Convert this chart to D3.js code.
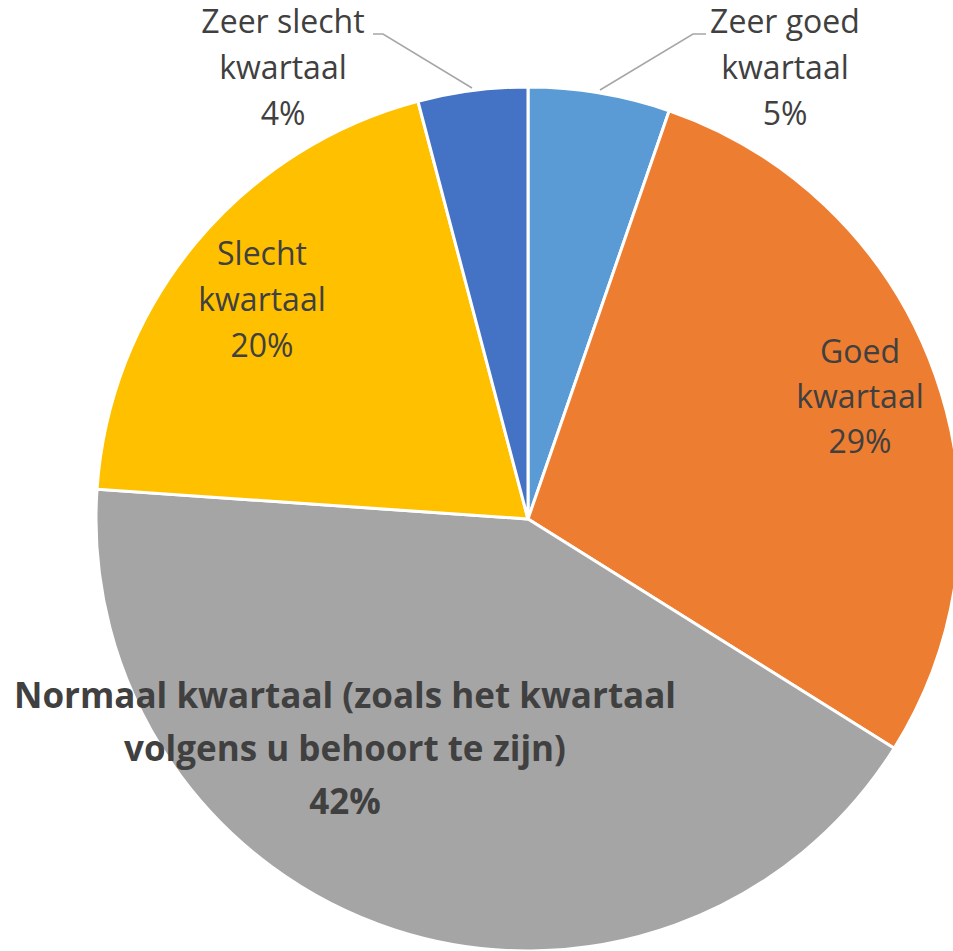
<!DOCTYPE html>
<html>
<head>
  <meta charset="UTF-8">
  <title>kwartaal-pie</title>
  <style type="text/css">
    body { margin: 0; background: #fff; }
    .slice { stroke: #fff; stroke-width: 3px; }
    .label { fill: #404040; font-family: "Open Sans", sans-serif; text-anchor: middle; }
    .leader { fill: none; stroke: #a6a6a6; stroke-width: 1.5px; }
  </style>
</head>
<body>
  <div class="svg-zone"></div>
  <script src="https://cdn.jsdelivr.net/npm/d3@7"></script>
  <script type="text/javascript">
    var categories = [
      "Zeer goed kwartaal",
      "Goed kwartaal",
      "Normaal kwartaal (zoals het kwartaal volgens u behoort te zijn)",
      "Slecht kwartaal",
      "Zeer slecht kwartaal"
    ];
    var values = [5.3, 28.6, 42.2, 19.8, 4.1];
    var colors = ["#5b9bd5", "#ed7d31", "#a5a5a5", "#ffc000", "#4472c4"];

    // label lines, split as shown
    var labelLines = [
      ["Zeer goed", "kwartaal"],
      ["Goed", "kwartaal"],
      ["Normaal kwartaal (zoals het kwartaal", "volgens u behoort te zijn)"],
      ["Slecht", "kwartaal"],
      ["Zeer slecht", "kwartaal"]
    ];

    var width = 953,
      height = 951,
      cx = 528,
      cy = 519,
      radius = 432;

    // label layout: centre x, first line y, line height, size, weight
    var labelPos = [
      { x: 785, y: 24, lh: 46, size: 32, bold: false, leader: [[600, 90], [693, 34], [706, 34]] },
      { x: 860, y: 354, lh: 45, size: 32, bold: false },
      { x: 345, y: 699, lh: 53, size: 35, bold: true },
      { x: 262, y: 256, lh: 46, size: 32, bold: false },
      { x: 283, y: 24, lh: 46, size: 32, bold: false, leader: [[472, 88], [383, 34], [373, 34]] }
    ];

    var svg = d3.select(".svg-zone").append("svg")
      .attr("width", width)
      .attr("height", height);

    var pie = d3.pie().sort(null).value(function (d) { return d; });
    var arc = d3.arc().innerRadius(0).outerRadius(radius);

    var g = svg.append("g").attr("transform", "translate(" + cx + "," + cy + ")");

    g.selectAll(".slice")
      .data(pie(values))
      .enter().append("path")
      .attr("class", "slice")
      .attr("fill", function (d, i) { return colors[i]; })
      .attr("d", arc);

    var line = d3.line();
    labelPos.forEach(function (p, i) {
      if (p.leader) {
        svg.append("path").attr("class", "leader").attr("d", line(p.leader));
      }
      var t = svg.append("text")
        .attr("class", "label")
        .attr("font-size", p.size)
        .attr("font-weight", p.bold ? "bold" : "normal")
        .attr("aria-label", categories[i]);
      var lines = labelLines[i].concat([Math.round(values[i]) + "%"]);
      lines.forEach(function (s, k) {
        t.append("tspan")
          .attr("x", p.x)
          .attr("y", p.y + k * p.lh)
          .attr("dominant-baseline", "middle")
          .text(s);
      });
    });
  </script>
</body>
</html>
